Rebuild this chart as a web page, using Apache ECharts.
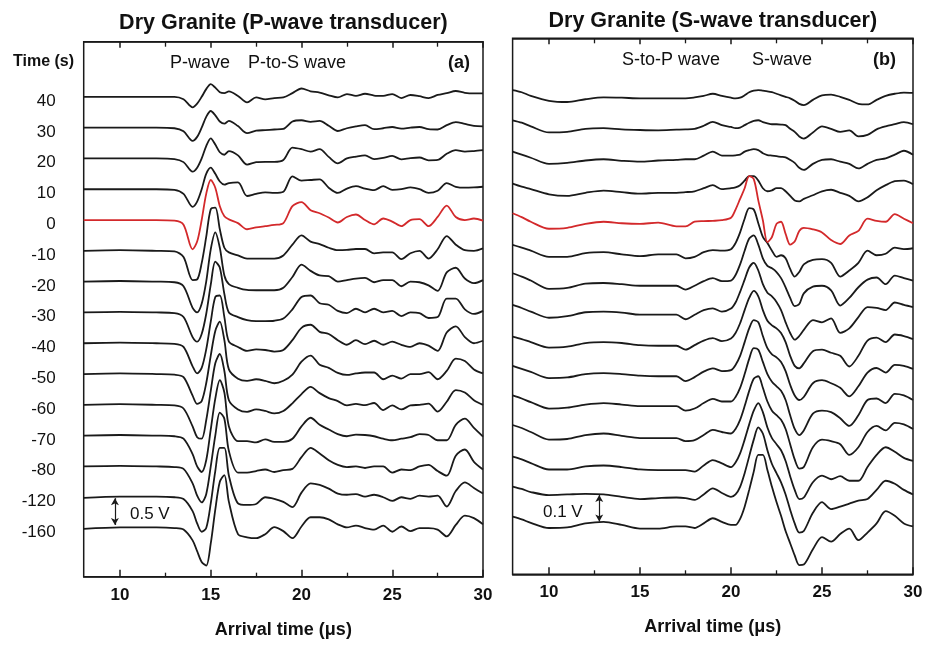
<!DOCTYPE html>
<html><head><meta charset="utf-8">
<script src="https://cdn.jsdelivr.net/npm/echarts@6/dist/echarts.min.js"></script>
<style>html,body{margin:0;padding:0;background:#fff}#c{width:930px;height:645px}</style>
</head><body><div id="c"></div>
<script>
// ---- time samples (µs) ----
const timeA = [8,10,12,13,13.5,14,14.25,14.5,14.75,15,15.25,15.5,15.75,16,16.5,17,17.5,18,18.5,19,19.5,20,20.5,21,21.5,22,22.5,23,23.5,24,24.5,25,25.5,26,26.5,27,27.5,28,28.5,29,29.5,30];
const timeB = [8,8.5,9,10,11,12,13,14,15,16,17,17.5,18,18.5,19,19.5,20,20.25,20.5,20.75,21,21.25,21.5,21.75,22,22.25,22.5,22.75,23,23.25,23.5,23.75,24,24.5,25,25.5,26,26.5,27,27.5,28,28.5,29,29.5,30];
// ---- trace labels (Time, s), bottom to top ----
const traceLabels = ['-160','-120','-80','-70','-60','-50','-40','-30','-20','-10','0','10','20','30','40'];
const xTicks = [10,15,20,25,30];
const xMinorTicks = [12.5,17.5,22.5,27.5];

// ---- panel (a): P-wave transducer, amplitudes in trace-spacing units ----
const a40  = [0,0,0,0,-0.08,-0.34,-0.22,0.0,0.25,0.41,0.3,0.15,0.12,0.18,0.03,-0.18,-0.02,-0.08,-0.04,-0.02,0.12,0.27,0.18,0.14,0.05,-0.02,0.09,0.03,0.1,0.04,0.03,0.09,-0.04,0.06,0.02,-0.04,0.06,0.12,0.19,0.13,0.11,0.11];
const a30  = [0,0,0,-0.02,-0.12,-0.43,-0.3,0,0.35,0.54,0.4,0.2,0.13,0.22,0.05,-0.18,-0.1,-0.08,-0.06,-0.04,0.2,0.24,0.19,0.22,0.06,-0.11,-0.02,0.04,0.08,-0.05,-0.02,0.02,-0.03,0,0.02,-0.05,-0.06,0.08,0.18,0.12,0.06,0.04];
const a20  = [0,0,0,-0.02,-0.12,-0.43,-0.3,0.0,0.4,0.65,0.45,0.2,0.12,0.24,0.1,-0.2,-0.12,-0.11,-0.11,-0.05,0.35,0.3,0.22,0.3,0.05,-0.16,0.0,0.06,0.1,-0.02,0.02,0.08,-0.03,0.01,0.03,-0.06,-0.05,0.15,0.27,0.22,0.24,0.27];
const a10  = [0,0,0,-0.02,-0.15,-0.57,-0.4,0.0,0.5,0.7,0.5,0.25,0.15,0.2,0.22,-0.22,-0.15,-0.1,-0.12,-0.08,0.42,0.28,0.3,0.32,0.05,-0.12,0.02,0.1,0.02,-0.03,0.1,-0.02,0.0,0.06,0.0,-0.12,-0.05,0.2,0.08,0.05,0.06,0.08];
const a0   = [0,0,0,-0.02,-0.15,-0.95,-0.7,0.0,0.85,1.3,1.05,0.45,0.12,0.02,-0.1,-0.3,-0.24,-0.2,-0.16,-0.1,0.45,0.58,0.32,0.22,0.08,-0.08,0.1,0.18,0.0,-0.14,0.05,-0.05,-0.2,0.0,0.03,-0.2,0.1,0.47,0.1,0.0,0.05,-0.02];
const am10 = [0,0.02,0,-0.02,-0.2,-0.95,-0.93,-0.4,0.45,1.35,1.4,0.7,0.1,-0.05,-0.15,-0.25,-0.25,-0.25,-0.25,-0.15,0.2,0.5,0.3,0.22,0.1,0.02,0.03,0.06,0.06,-0.08,-0.05,-0.05,-0.27,-0.08,0.0,-0.25,0.05,0.48,0.2,0.02,0.0,0.08];
const am20 = [0,0.02,0,-0.02,-0.15,-0.85,-1.0,-0.72,0.0,1.05,1.6,1.1,0.2,-0.08,-0.2,-0.27,-0.28,-0.28,-0.28,-0.2,0.15,0.55,0.35,0.2,0.18,0.0,0.05,0.1,0.12,-0.02,0.05,0.05,-0.15,0.0,-0.02,-0.12,-0.3,0.3,0.45,0.1,-0.05,0.05];
const am30 = [0,0.02,0,-0.02,-0.15,-0.8,-0.95,-0.7,-0.05,0.9,1.65,1.45,0.6,0.0,-0.15,-0.25,-0.28,-0.28,-0.27,-0.2,0.1,0.5,0.55,0.3,0.25,0.05,-0.02,0.12,0.0,0.12,0.0,0.05,-0.12,0.0,-0.02,-0.18,-0.15,0.45,0.45,0.1,-0.05,0.05];
const am40 = [0,0.02,0,-0.02,-0.12,-0.75,-0.98,-0.8,-0.2,0.7,1.5,1.55,0.85,0.05,-0.12,-0.25,-0.2,-0.22,-0.27,-0.22,0.1,0.5,0.6,0.37,0.3,0.1,-0.05,0.1,-0.03,0.08,-0.05,0.05,-0.05,-0.12,0.0,-0.08,-0.25,0.35,0.55,0.2,0.0,0.08];
const am50 = [0,0.02,0,-0.02,-0.1,-0.7,-0.97,-0.88,-0.3,0.6,1.4,1.7,1.1,0.15,-0.15,-0.22,-0.17,-0.22,-0.3,-0.22,-0.02,0.4,0.6,0.3,0.2,0.04,-0.03,0.02,0.05,0.05,-0.17,-0.05,-0.15,0.0,0.0,0.06,-0.17,0.1,0.5,0.42,0.15,0.02];
const am60 = [0,0.02,0,-0.02,-0.12,-0.7,-1.05,-1.1,-0.5,0.45,1.35,1.65,1.1,0.15,-0.15,-0.23,-0.15,-0.2,-0.28,-0.2,0.05,0.35,0.58,0.38,0.22,0.12,-0.02,0.03,-0.01,0.06,-0.17,-0.02,-0.15,-0.02,0.0,0.04,-0.22,0.1,0.48,0.4,0.15,0.0];
const am70 = [0,0.02,0,-0.02,-0.1,-0.6,-1.0,-1.18,-0.8,0.2,1.2,1.8,1.4,0.3,-0.18,-0.18,-0.22,-0.12,-0.2,-0.2,-0.1,0.3,0.58,0.35,0.2,0.05,-0.02,0.03,0.02,-0.02,-0.1,-0.15,-0.1,-0.05,0.05,0.02,-0.15,-0.15,0.35,0.55,0.25,-0.03];
const am80 = [0,0.02,0,-0.02,-0.08,-0.55,-0.95,-1.17,-0.9,0.0,1.0,1.75,1.55,0.5,-0.2,-0.2,-0.15,-0.1,-0.18,-0.12,-0.08,0.3,0.6,0.42,0.2,0.05,-0.02,0.0,-0.05,0.0,0.0,-0.2,-0.1,-0.12,0.0,0.05,-0.15,-0.3,0.35,0.55,0.15,-0.1];
const am120 = [-0.02,0.02,0.02,0.0,-0.06,-0.45,-0.85,-1.12,-1.0,-0.2,0.85,1.6,1.6,0.7,-0.2,-0.25,-0.22,0.0,-0.05,-0.15,-0.32,0.15,0.45,0.4,0.28,0.12,0.08,0.1,0.02,0.08,0.0,-0.12,0.0,-0.05,0.05,0.02,0.05,-0.3,0.2,0.48,0.3,0.12];
const am160 = [-0.03,0.02,0.02,0.0,-0.05,-0.4,-0.75,-1.1,-1.22,-0.5,0.6,1.5,1.72,0.85,-0.2,-0.3,-0.33,-0.2,0.03,-0.1,-0.33,0.05,0.35,0.35,0.28,0.12,0.02,0.08,0.0,-0.05,0.08,-0.12,0.05,-0.1,0.0,0.0,-0.05,-0.27,0.1,0.4,0.32,0.12];

// ---- panel (b): S-wave transducer ----
const b40  = [0.27,0.2,0.08,-0.08,-0.12,-0.03,0.03,0.02,0.0,0.0,0.0,0.0,0.03,0.08,0.15,0.08,0.02,0.0,0.02,0.1,0.2,0.25,0.27,0.25,0.23,0.2,0.15,0.1,0.05,0.0,-0.08,-0.18,-0.22,-0.05,0.1,0.12,0.05,-0.05,-0.18,-0.2,-0.05,0.08,0.15,0.19,0.18];
const b30  = [0.28,0.2,0.08,-0.12,-0.1,0.0,0.02,-0.02,-0.04,-0.05,-0.03,-0.02,0.0,0.1,0.23,0.12,0.06,0.02,0.04,0.12,0.2,0.26,0.28,0.22,0.18,0.15,0.15,0.14,0.12,0.0,-0.1,-0.25,-0.32,-0.12,0.08,0.0,-0.1,-0.05,-0.25,-0.2,-0.02,0.08,0.15,0.22,0.15];
const b20  = [0.25,0.15,0.05,-0.15,-0.12,-0.04,0.0,-0.05,-0.08,-0.04,-0.02,0.0,0.0,0.12,0.25,0.12,0.12,0.13,0.15,0.25,0.3,0.33,0.3,0.2,0.14,0.12,0.1,0.08,0.06,-0.02,-0.12,-0.28,-0.35,-0.15,-0.02,0.0,-0.08,-0.15,-0.3,-0.15,-0.02,0.03,0.15,0.28,0.15];
const b10  = [0.2,0.1,0.02,-0.15,-0.2,-0.1,-0.03,-0.08,-0.13,-0.1,-0.1,-0.08,-0.05,0.05,0.15,0.02,0.05,0.08,0.15,0.3,0.45,0.45,0.3,0.05,-0.05,-0.02,0.05,0.05,-0.05,-0.2,-0.35,-0.38,-0.3,-0.18,-0.05,0.0,-0.1,-0.2,-0.38,-0.25,-0.02,0.15,0.28,0.3,0.18];
const b0   = [0.23,0.1,-0.05,-0.28,-0.25,-0.12,-0.05,-0.1,-0.12,-0.08,-0.2,-0.2,-0.05,-0.03,-0.02,0.0,0.08,0.35,0.7,1.05,1.45,1.35,0.65,0.0,-0.72,-0.55,-0.12,-0.05,-0.45,-0.8,-0.7,-0.35,-0.25,-0.3,-0.4,-0.65,-0.78,-0.5,-0.35,0.05,-0.02,-0.05,0.2,0.05,-0.1];
const bm10 = [0.19,0.1,0.0,-0.2,-0.2,-0.08,-0.05,-0.12,-0.18,-0.12,-0.12,-0.25,-0.2,-0.05,0.02,0.0,0.05,0.25,0.6,1.05,1.4,1.35,0.9,0.45,0.25,0.0,-0.2,-0.15,-0.25,-0.6,-0.85,-0.7,-0.45,-0.3,-0.28,-0.4,-0.85,-0.65,-0.4,0.0,-0.15,-0.1,0.1,0.05,0.08];
const bm20 = [0.26,0.15,0.02,-0.25,-0.22,-0.08,-0.06,-0.1,-0.15,-0.15,-0.15,-0.28,-0.15,0.0,0.1,0.0,0.02,0.2,0.55,1.0,1.4,1.5,1.2,0.75,0.5,0.42,0.3,0.1,-0.2,-0.55,-0.82,-0.75,-0.4,-0.18,-0.15,-0.3,-0.8,-0.55,-0.2,0.05,0.12,-0.1,0.18,0.1,0.02];
const bm30 = [0.22,0.12,0.0,-0.2,-0.15,-0.02,0.0,-0.03,-0.1,-0.1,-0.1,-0.25,-0.1,0.05,0.11,0.0,0.1,0.3,0.65,1.05,1.45,1.6,1.35,0.9,0.62,0.5,0.32,0.05,-0.35,-0.7,-0.92,-0.8,-0.6,-0.28,-0.35,-0.22,-0.7,-0.55,-0.18,0.15,0.12,0.05,0.3,0.22,0.15];
const bm40 = [0.18,0.1,0.0,-0.18,-0.15,-0.03,0.0,-0.03,-0.1,-0.12,-0.12,-0.25,-0.1,0.05,0.13,0.03,0.12,0.3,0.62,1.05,1.45,1.68,1.5,1.05,0.7,0.55,0.45,0.3,0.0,-0.45,-0.78,-0.86,-0.7,-0.3,-0.25,-0.35,-0.45,-0.8,-0.45,0.05,0.15,0.0,0.25,0.2,0.1];
const bm50 = [0.22,0.12,0.02,-0.18,-0.16,-0.05,-0.02,-0.05,-0.1,-0.12,-0.12,-0.28,-0.15,0.03,0.14,0.05,0.08,0.25,0.55,1.0,1.45,1.72,1.65,1.2,0.8,0.6,0.5,0.35,0.05,-0.4,-0.75,-0.9,-0.8,-0.35,-0.25,-0.35,-0.5,-0.78,-0.45,0.0,0.15,0.0,0.25,0.22,0.12];
const bm60 = [0.25,0.15,0.03,-0.18,-0.15,-0.05,0.0,-0.05,-0.1,-0.1,-0.1,-0.25,-0.18,0.0,0.14,0.05,0.05,0.2,0.5,0.95,1.45,1.8,1.75,1.35,0.95,0.7,0.55,0.4,0.1,-0.4,-0.85,-1.05,-0.9,-0.35,-0.25,-0.3,-0.5,-0.75,-0.4,0.1,0.15,0.0,0.3,0.25,0.1];
const bm70 = [0.28,0.18,0.05,-0.2,-0.18,-0.05,0.0,-0.08,-0.15,-0.15,-0.15,-0.25,-0.22,-0.05,0.12,0.05,0.0,0.15,0.45,0.9,1.4,1.8,1.88,1.5,1.05,0.75,0.6,0.45,0.15,-0.35,-0.85,-1.15,-1.1,-0.45,-0.2,-0.25,-0.35,-0.7,-0.45,0.05,0.25,0.1,0.35,0.3,0.15];
const bm80 = [0.24,0.15,0.03,-0.18,-0.18,-0.08,-0.05,-0.1,-0.18,-0.2,-0.2,-0.2,-0.25,-0.05,0.13,0.02,-0.1,0.05,0.35,0.8,1.3,1.75,2.0,1.7,1.2,0.85,0.65,0.45,0.1,-0.4,-0.85,-1.15,-1.1,-0.6,-0.38,-0.5,-0.4,-0.55,-0.55,-0.1,0.3,0.55,0.4,0.2,0.1];
const bm120 = [0.26,0.18,0.08,-0.02,0.0,0.02,0.0,-0.08,-0.15,-0.12,-0.1,-0.12,-0.18,0.0,0.2,0.05,-0.08,0.0,0.25,0.7,1.25,1.8,2.2,2.0,1.45,1.0,0.7,0.4,0.0,-0.5,-0.95,-1.25,-1.2,-0.6,-0.25,-0.48,-0.4,-0.3,-0.2,-0.15,0.15,0.45,0.35,0.15,0.0];
const bm160 = [0.27,0.18,0.07,-0.1,-0.08,0.05,0.1,0.0,-0.12,-0.12,-0.05,-0.05,-0.1,0.05,0.22,0.1,0.0,0.0,0.2,0.6,1.15,1.75,2.3,2.3,1.8,1.25,0.75,0.3,-0.2,-0.6,-1.0,-1.32,-1.3,-0.8,-0.4,-0.55,-0.3,-0.12,-0.5,-0.25,0.05,0.45,0.3,0.05,-0.05];

const tracesA = [am160,am120,am80,am70,am60,am50,am40,am30,am20,am10,a0,a10,a20,a30,a40];
const tracesB = [bm160,bm120,bm80,bm70,bm60,bm50,bm40,bm30,bm20,bm10,b0,b10,b20,b30,b40];
const redIndex = traceLabels.indexOf('0');

const FONT = '"Liberation Sans", Arial, Helvetica, sans-serif';
const INK = '#1a1a1a';
const RED = '#d3292b';

function traceSeries(times, vals, k, axisIdx, yIdx) {
  const red = k === redIndex;
  return {
    type: 'line', xAxisIndex: axisIdx, yAxisIndex: yIdx,
    data: times.map((t, i) => [t, k + vals[i]]),
    smooth: 0.3, symbol: 'none', showSymbol: false, silent: true,
    lineStyle: { width: 1.8, color: red ? RED : INK },
    z: red ? 5 : 3, clip: true
  };
}

function xAxes(grid) {
  const base = { gridIndex: grid, type: 'value', min: 8, max: 30, splitLine: { show: false } };
  const line = { show: true, onZero: false, lineStyle: { color: INK, width: 1.5 } };
  const noLine = { show: false, onZero: false };
  return [
    Object.assign({}, base, {
      position: 'bottom', axisLine: line,
      axisTick: { show: true, inside: true, length: 7, customValues: xTicks, lineStyle: { color: INK, width: 1.5 } },
      axisLabel: { show: true, customValues: xTicks, fontFamily: FONT, fontWeight: 'bold', fontSize: 17, color: '#111', margin: 10 },
      name: 'Arrival time (μs)', nameLocation: 'middle', nameGap: 44,
      nameTextStyle: { fontFamily: FONT, fontWeight: 'bold', fontSize: 18, color: '#111' }
    }),
    Object.assign({}, base, {
      position: 'bottom', axisLine: noLine,
      axisTick: { show: true, inside: true, length: 4, customValues: xMinorTicks, lineStyle: { color: INK, width: 1.3 } },
      axisLabel: { show: false }
    }),
    Object.assign({}, base, {
      position: 'top', axisLine: line,
      axisTick: { show: true, inside: true, length: 6, customValues: xTicks, lineStyle: { color: INK, width: 1.5 } },
      axisLabel: { show: false }
    }),
    Object.assign({}, base, {
      position: 'top', axisLine: noLine,
      axisTick: { show: true, inside: true, length: 5, customValues: xMinorTicks, lineStyle: { color: INK, width: 1.3 } },
      axisLabel: { show: false }
    })
  ];
}

const series = [];
tracesA.forEach((v, k) => series.push(traceSeries(timeA, v, k, 0, 0)));
tracesB.forEach((v, k) => series.push(traceSeries(timeB, v, k, 4, 1)));

// scale bars (0.5 V in panel a, 0.1 V in panel b)
const arrowLine = (x, y1, y2) => ({
  silent: true, symbol: ['arrow', 'arrow'], symbolSize: [6, 7],
  lineStyle: { color: INK, width: 1.2, type: 'solid' }, label: { show: false },
  data: [[{ coord: [x, y1] }, { coord: [x, y2] }]], animation: false
});
series[0].markLine = arrowLine(9.72, 0.1, 0.97);
series[15].markLine = arrowLine(12.76, 0.11, 0.98);

function txt(x, y, text, font, align) {
  return { type: 'text', x: x, y: y, silent: true, style: {
    text: text, font: font, fill: '#111',
    align: align || 'left', verticalAlign: 'middle',
    textAlign: align || 'left', textVerticalAlign: 'middle' } };
}
const bold = s => `bold ${s}px ${FONT}`;
const reg = s => `${s}px ${FONT}`;
const labelShift = 0.14; // labels sit slightly below each trace baseline

const option = {
  animation: false,
  backgroundColor: '#fff',
  grid: [
    { left: 83.7, top: 41.7, width: 399.3, height: 535, show: true, borderColor: INK, borderWidth: 1.5, backgroundColor: 'transparent' },
    { left: 512.6, top: 38.3, width: 400.4, height: 536, show: true, borderColor: INK, borderWidth: 1.5, backgroundColor: 'transparent' }
  ],
  xAxis: xAxes(0).concat(xAxes(1)),
  yAxis: [
    { gridIndex: 0, type: 'value', min: -1.58, max: 15.79,
      axisLine: { show: false, onZero: false }, axisTick: { show: false }, splitLine: { show: false },
      axisLabel: { show: true, customValues: traceLabels.map((_, i) => i - labelShift),
        formatter: v => traceLabels[Math.round(v + labelShift)], fontFamily: FONT, fontSize: 17, color: '#111',
        margin: 28 } },
    { gridIndex: 1, type: 'value', min: -1.62, max: 15.97,
      axisLine: { show: false, onZero: false }, axisTick: { show: false }, splitLine: { show: false }, axisLabel: { show: false } }
  ],
  series: series,
  graphic: [
    txt(283.4, 23, 'Dry Granite (P-wave transducer)', bold(21.5), 'center'),
    txt(712.8, 21, 'Dry Granite (S-wave transducer)', bold(21.5), 'center'),
    txt(13, 62, 'Time (s)', bold(16)),
    txt(170, 63, 'P-wave', reg(18)),
    txt(248, 63, 'P-to-S wave', reg(18)),
    txt(448, 63, '(a)', bold(18)),
    txt(622, 60, 'S-to-P wave', reg(18)),
    txt(752, 60, 'S-wave', reg(18)),
    txt(873, 60, '(b)', bold(18)),
    txt(130, 514, '0.5 V', reg(17)),
    txt(543, 512, '0.1 V', reg(17))
  ]
};
const chart = echarts.init(document.getElementById('c'), null, { renderer: 'canvas' });
chart.setOption(option);
</script></body></html>
